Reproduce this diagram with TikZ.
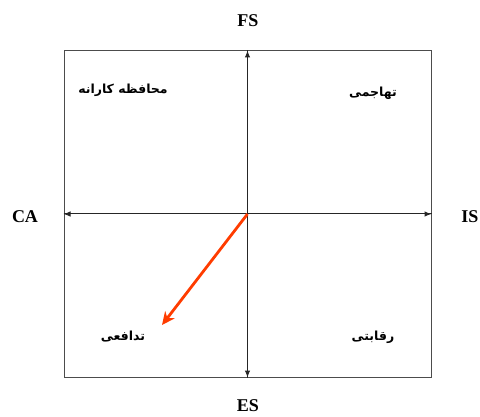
\documentclass[tikz,border=0pt]{standalone}
\usepackage{fontspec}
\setmainfont{Liberation Serif}
\newfontfamily\farsifont[Script=Arabic]{DejaVu Sans}
\TeXXeTstate=1
\usetikzlibrary{arrows.meta}
\definecolor{moveRed}{RGB}{255,60,0}

\begin{document}
\begin{tikzpicture}[
    x=1pt, y=-1pt,
    frame/.style={
      draw=black!70, line width=1pt,
      minimum width=367pt, minimum height=326pt, inner sep=0pt
    },
    axis arrow/.style={-{Latex[length=7pt,width=5.5pt]}, line width=1pt, black!85},
    move arrow/.style={-{Stealth[length=13pt,width=12pt]}, moveRed, line width=2.8pt},
    axislabel/.style={font=\fontsize{18}{20}\selectfont\bfseries},
    quadlabel/.style={font=\farsifont\fontsize{12.5}{14}\selectfont\bfseries},
  ]
  \useasboundingbox (0,0) rectangle (480,417);

  %% ---- outer square ----
  \node[frame] (frame) at (247.5,214) {};
  \coordinate (centre) at (frame.center);

  %% ---- axes ----
  \draw[axis arrow] (frame.south) -- (frame.north);
  \draw[axis arrow] (frame.north) -- (frame.south);
  \draw[axis arrow] (frame.west) -- (frame.east);
  \draw[axis arrow] (frame.east) -- (frame.west);

  %% ---- axis labels ----
  \node[axislabel] (FS) at (248,21) {FS};
  \node[axislabel] (ES) at (248,406) {ES};
  \node[axislabel] (CA) at (25,217) {CA};
  \node[axislabel] (IS) at (470,217) {IS};

  %% ---- quadrant labels ----
  \node[quadlabel] (conservative) at (123,90) {\beginR محافظه کارانه\endR};
  \node[quadlabel] (aggressive)   at (373,93) {\beginR تهاجمی\endR};
  \node[quadlabel] (defensive)    at (123,337) {\beginR تدافعی\endR};
  \node[quadlabel] (competitive)  at (373,337) {\beginR رقابتی\endR};

  %% ---- strategy move ----
  \coordinate (target) at (162,325);
  \draw[move arrow] (centre) -- (target);

\end{tikzpicture}
\end{document}
